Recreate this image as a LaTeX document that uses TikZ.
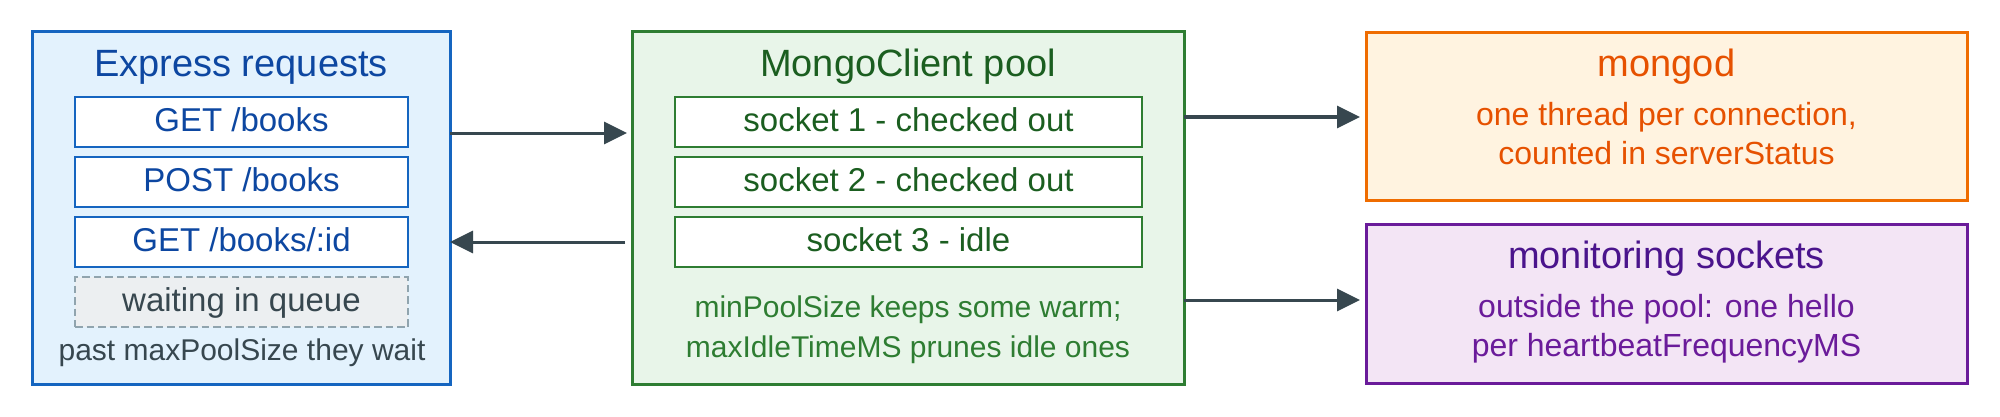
\documentclass[tikz,border=0pt]{standalone}
\usepackage{fontspec}
\setmainfont{Liberation Sans}
\usetikzlibrary{arrows.meta}
\definecolor{bluebd}{HTML}{1565C0}
\definecolor{bluefl}{HTML}{E3F2FD}
\definecolor{bluetx}{HTML}{0D47A1}
\definecolor{greenbd}{HTML}{2E7D32}
\definecolor{greenfl}{HTML}{E8F5E9}
\definecolor{greentx}{HTML}{1B5E20}
\definecolor{greenlt}{HTML}{2E7D32}
\definecolor{orangebd}{HTML}{EF6C00}
\definecolor{orangefl}{HTML}{FFF3E0}
\definecolor{orangetx}{HTML}{E65100}
\definecolor{purplebd}{HTML}{6A1B9A}
\definecolor{purplefl}{HTML}{F3E5F5}
\definecolor{purpletx}{HTML}{4A148C}
\definecolor{purplelt}{HTML}{6A1B9A}
\definecolor{slate}{HTML}{37474F}
\definecolor{greybd}{HTML}{90A4AE}
\definecolor{greyfl}{HTML}{ECEFF1}
\begin{document}
\begin{tikzpicture}[x=0.5pt,y=-0.5pt,
  outerbox/.style={rectangle, draw, line width=1.5pt, inner sep=0pt, outer sep=0pt},
  innerbox/.style={rectangle, draw, line width=1pt, fill=white, inner sep=0pt, outer sep=0pt,
     font=\fontsize{16.5}{19.5}\selectfont, text height=11.9pt, text depth=2pt},
  titletext/.style={anchor=base, inner sep=0pt, font=\fontsize{19}{23}\selectfont},
  subtext/.style={anchor=base, inner sep=0pt, font=\fontsize{16}{19}\selectfont},
  notetext/.style={anchor=base, inner sep=0pt, font=\fontsize{15}{18}\selectfont},
  arr/.style={draw=slate, line width=1.5pt, -{Triangle[length=11.5pt,width=11pt]}, fill=slate}
]
\useasboundingbox (0,0) rectangle (2000,417);
\fill[white] (0,0) rectangle (2000,417);

% Express requests
\node[outerbox, draw=bluebd, fill=bluefl, minimum width=209pt, minimum height=176pt] (req) at (241,208) {};
\node[titletext, text=bluetx] (reqtitle) at (241,77) {Express requests};
\node[innerbox, draw=bluebd, text=bluetx, minimum width=166.5pt, minimum height=25pt] (r1) at (241.5,122) {GET /books};
\node[innerbox, draw=bluebd, text=bluetx, minimum width=166.5pt, minimum height=25pt] (r2) at (241.5,182) {POST /books};
\node[innerbox, draw=bluebd, text=bluetx, minimum width=166.5pt, minimum height=25pt] (r3) at (241.5,242) {GET /books/:id};
\node[innerbox, draw=greybd, fill=greyfl, text=slate, dash pattern=on 3.75pt off 2pt, minimum width=166.5pt, minimum height=25pt] (rq) at (241.5,302) {waiting in queue};
\node[notetext, text=slate] (reqnote) at (242,360) {past maxPoolSize they wait};

% MongoClient pool
\node[outerbox, draw=greenbd, fill=greenfl, minimum width=276pt, minimum height=176pt] (pool) at (908,208) {};
\node[titletext, text=greentx] (pooltitle) at (908,76) {MongoClient pool};
\node[innerbox, draw=greenbd, text=greentx, minimum width=233.5pt, minimum height=25pt] (s1) at (908.5,122) {socket 1 - checked out};
\node[innerbox, draw=greenbd, text=greentx, minimum width=233.5pt, minimum height=25pt] (s2) at (908.5,182) {socket 2 - checked out};
\node[innerbox, draw=greenbd, text=greentx, minimum width=233.5pt, minimum height=25pt] (s3) at (908.5,242) {socket 3 - idle};
\node[notetext, text=greenlt] (poolnote1) at (908,317) {minPoolSize keeps some warm;};
\node[notetext, text=greenlt] (poolnote2) at (908,357) {maxIdleTimeMS prunes idle ones};

% mongod
\node[outerbox, draw=orangebd, fill=orangefl, minimum width=300.5pt, minimum height=83.5pt] (mongod) at (1666.5,116.5) {};
\node[titletext, text=orangetx] (mongodtitle) at (1666.5,77) {mongod};
\node[subtext, text=orangetx] (mongod1) at (1666.5,126) {one thread per connection,};
\node[subtext, text=orangetx] (mongod2) at (1666.5,164) {counted in serverStatus};

% monitoring sockets
\node[outerbox, draw=purplebd, fill=purplefl, minimum width=300.5pt, minimum height=79.5pt] (mon) at (1666.5,303.5) {};
\node[titletext, text=purpletx] (montitle) at (1666.5,268) {monitoring sockets};
\node[subtext, text=purplelt] (mon1) at (1666.5,317) {outside the pool: one hello};
\node[subtext, text=purplelt] (mon2) at (1666.5,356) {per heartbeatFrequencyMS};

% connectors
\draw[arr, shorten >=2.5pt] (req.east |- 0,133) -- (pool.west |- 0,133);
\draw[arr, shorten <=3.5pt] (pool.west |- 0,242) -- (req.east |- 0,242);
\draw[arr, shorten >=3pt] (pool.east |- 0,117) -- (mongod.west |- 0,117);
\draw[arr, shorten >=3pt] (pool.east |- 0,300) -- (mon.west |- 0,300);
\end{tikzpicture}
\end{document}
